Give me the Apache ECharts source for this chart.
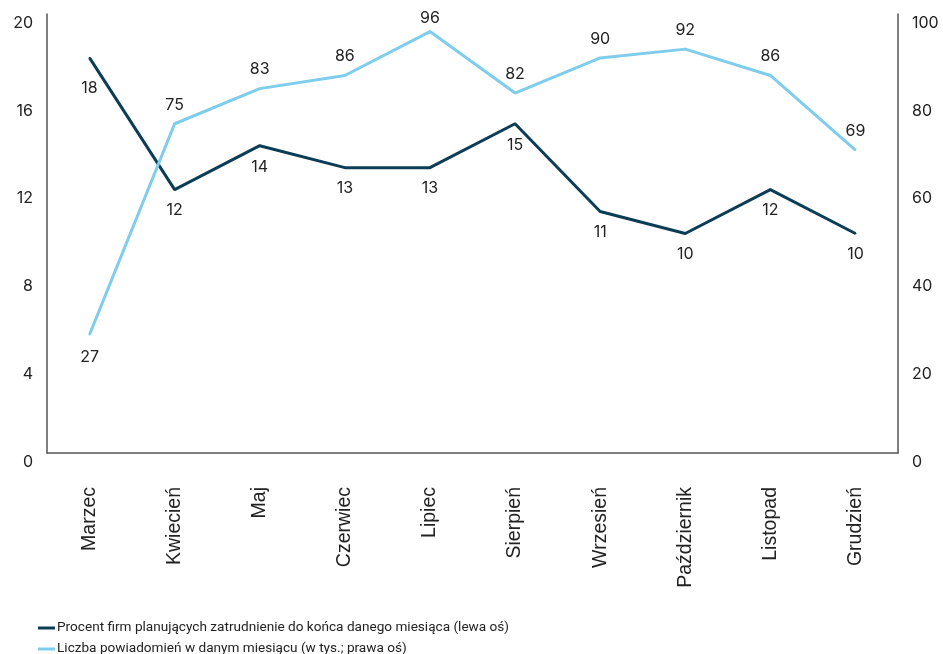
<!DOCTYPE html>
<html><head><meta charset="utf-8">
<script src="https://cdn.jsdelivr.net/npm/echarts@6/dist/echarts.min.js"></script>
<style>html,body{margin:0;padding:0;background:#fff}#c{width:943px;height:654px}</style>
</head><body><div id="c"></div>
<script>
const categories = ['Marzec','Kwiecień','Maj','Czerwiec','Lipiec','Sierpień','Wrzesień','Październik','Listopad','Grudzień'];
const percentFirms = [18,12,14,13,13,15,11,10,12,10];
const notifications = [27,75,83,86,96,82,90,92,86,69];
const leftTicks = [0,4,8,12,16,20];
const rightTicks = [0,20,40,60,80,100];
const seriesNames = ['Procent firm planujących zatrudnienie do końca danego miesiąca (lewa oś)','Liczba powiadomień w danym miesiącu (w tys.; prawa oś)'];

const chart = echarts.init(document.getElementById('c'));
const txt = '#222';
const font = 'Inter';
const dark = '#0b3d56', light = '#7fcdec';
const legendText = {fontFamily:'Roboto',fontSize:13.6,color:'#222',padding:[0,0,0,-3]};
chart.setOption({
  animation:false,
  grid:{left:47,right:45,top:14,bottom:201,containLabel:false},
  legend:[
    {left:33,top:616,itemWidth:17,itemHeight:3,icon:'rect',textStyle:legendText,data:[{name:seriesNames[0],itemStyle:{color:dark}}]},
    {left:33,top:637,itemWidth:17,itemHeight:3,icon:'rect',textStyle:legendText,data:[{name:seriesNames[1],itemStyle:{color:light}}]}
  ],
  xAxis:{type:'category',data:categories,boundaryGap:true,
    axisLine:{lineStyle:{color:'#555',width:1.5}},axisTick:{show:false},
    axisLabel:{rotate:90,margin:34,fontFamily:'Liberation Sans',fontSize:19.5,color:txt,interval:0}},
  yAxis:[
    {type:'value',min:leftTicks[0],max:leftTicks[leftTicks.length-1],interval:4,position:'left',
     axisLine:{show:true,lineStyle:{color:'#555',width:1.5}},axisTick:{show:false},splitLine:{show:false},
     axisLabel:{fontFamily:font,fontSize:16,color:txt,margin:14,verticalAlign:'top',padding:[1,0,0,0]}},
    {type:'value',min:rightTicks[0],max:rightTicks[rightTicks.length-1],interval:20,position:'right',
     axisLine:{show:true,lineStyle:{color:'#555',width:1.5}},axisTick:{show:false},splitLine:{show:false},
     axisLabel:{fontFamily:font,fontSize:16,color:txt,margin:14,verticalAlign:'top',padding:[1,0,0,0]}}
  ],
  series:[
    {name:seriesNames[0],type:'line',yAxisIndex:0,
     data:percentFirms.map((v,i)=>i===0?{value:v,label:{distance:21}}:v),symbol:'circle',symbolSize:2,showSymbol:true,
     lineStyle:{color:dark,width:3},itemStyle:{color:dark},
     label:{show:true,position:'bottom',distance:12,fontFamily:font,fontSize:16,color:txt}},
    {name:seriesNames[1],type:'line',yAxisIndex:1,
     data:notifications.map((v,i)=>i===0?{value:v,label:{position:'bottom',distance:14}}:(i===4?{value:v,label:{distance:4}}:v)),symbol:'circle',symbolSize:2,showSymbol:true,
     lineStyle:{color:light,width:3},itemStyle:{color:light},
     label:{show:true,position:'top',distance:10,fontFamily:font,fontSize:16,color:txt}}
  ]
});
</script></body></html>
